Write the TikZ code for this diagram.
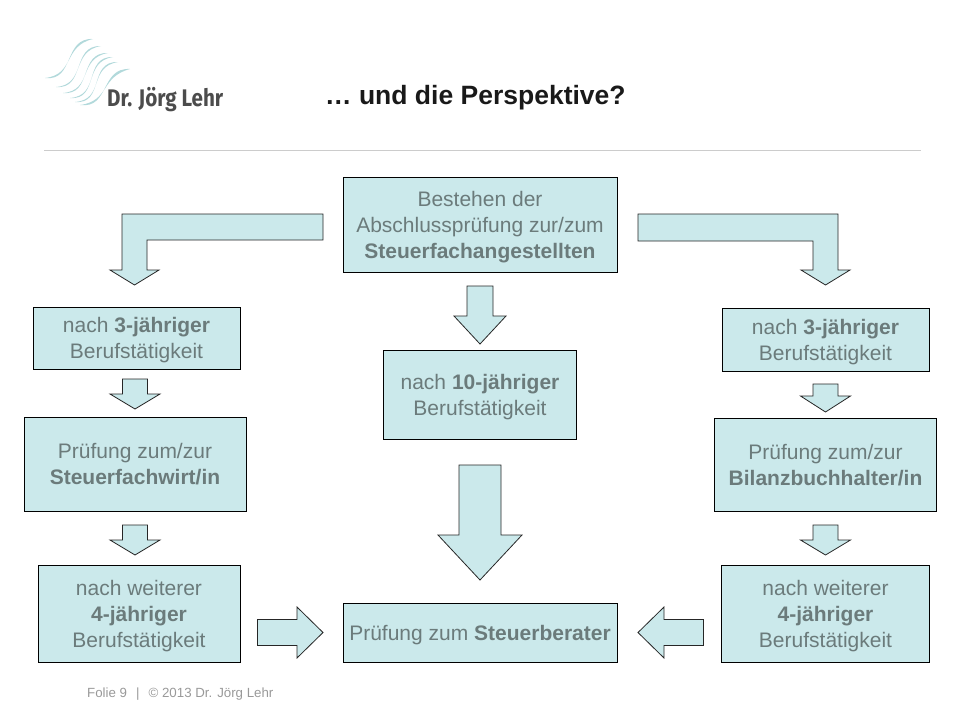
\documentclass[tikz,border=0pt]{standalone}
\usepackage{fontspec}
\setmainfont{Liberation Sans}
\newfontfamily\logofont{Fira Sans}
\usetikzlibrary{positioning,calc}
\definecolor{boxfill}{HTML}{CBE9EB}
\definecolor{boxtext}{HTML}{6B7B7B}
\definecolor{logowave}{HTML}{B2D9DB}
\tikzset{
	stepbox/.style={draw=black, line width=0.8pt, fill=boxfill, text=boxtext, align=center, inner sep=0pt, outer sep=0pt, text depth=0pt, font=\fontsize{21}{26}\selectfont},
	blockarrow/.style={draw=black!85, line width=0.8pt, fill=boxfill, line join=miter},
}
% start, tip, shaft half width, head half width, head length
\newcommand{\BlockArrow}[5]{
	\coordinate (bs) at (#1);
	\coordinate (bt) at (#2);
	\coordinate (bn) at ($(bt)!#5!(bs)$);
	\draw[blockarrow] ($(bs)!#3!90:(bt)$) -- ($(bn)!#3!90:(bt)$) -- ($(bn)!#4!90:(bt)$) -- (bt)
		-- ($(bn)!#4!-90:(bt)$) -- ($(bn)!#3!-90:(bt)$) -- ($(bs)!#3!-90:(bt)$) -- cycle;
}

\begin{document}
\begin{tikzpicture}[x=1pt, y=1pt]
	\useasboundingbox (0,0) rectangle (960,-720);

	% logo
	\foreach \sx/\sy/\ex/\ey/\wt in {45/78/93/39/7, 56/87/101/46/5, 63/93/108/53/5, 70/98/113/57/5, 75/102/118/62/5, 80/105/130/69/8} {
		\fill[logowave] (\sx,-\sy) .. controls (\sx+30,-\sy-\wt*0.5) and (\ex-30,-\ey+\wt*0.2) .. (\ex,-\ey)
			.. controls (\ex-30,-\ey-\wt) and (\sx+30,-\sy+\wt*0.5) .. cycle;
	}
	\node[font=\logofont\bfseries\fontsize{24}{26}\selectfont, text=black!70, xscale=0.86, anchor=west, inner sep=0pt] (logotext) at (107,-100) {Dr. Jörg Lehr};

	% head
	\node[font=\bfseries\fontsize{26.5}{30}\selectfont, text=black!90, anchor=west, inner sep=0pt] (title) at (325,-98) {… und die Perspektive?};
	\coordinate (ruleL) at (44,-150.5);
	\coordinate (ruleR) at (921,-150.5);
	\draw[black!20, line width=0.8pt] (ruleL) -- (ruleR);

	% boxes
	\node[stepbox, minimum width=274pt, minimum height=95pt] (topbox) at (480,-224.5) {Bestehen der\\Abschlussprüfung zur/zum\\\textbf{Steuerfachangestellten}};
	\node[stepbox, minimum width=193pt, minimum height=89pt, below=78pt of topbox] (mid) {nach \textbf{10-jähriger}\\Berufstätigkeit};
	\node[stepbox, minimum width=274pt, minimum height=59pt, below=164pt of mid] (berater) {Prüfung zum \textbf{Steuerberater}};

	\node[stepbox, minimum width=207pt, minimum height=62pt] (left1) at (136.5,-338) {nach \textbf{3-jähriger}\\Berufstätigkeit};
	\node[stepbox, minimum width=222pt, minimum height=94pt, below=48pt of left1, xshift=-1.5pt] (left2) {Prüfung zum/zur\\\textbf{Steuerfachwirt/in}};
	\node[stepbox, minimum width=202pt, minimum height=97pt, below=54pt of left2, xshift=4pt] (left3) {nach weiterer\\\textbf{4-jähriger}\\Berufstätigkeit};

	\node[stepbox, minimum width=207pt, minimum height=63pt] (right1) at (825.5,-339.5) {nach \textbf{3-jähriger}\\Berufstätigkeit};
	\node[stepbox, minimum width=222pt, minimum height=93pt, below=47pt of right1] (right2) {Prüfung zum/zur\\\textbf{Bilanzbuchhalter/in}};
	\node[stepbox, minimum width=208pt, minimum height=97pt, below=54pt of right2] (right3) {nach weiterer\\\textbf{4-jähriger}\\Berufstätigkeit};

	% arrows
	\BlockArrow{$(topbox.south)+(0,-14)$}{$(mid.north)+(0,6)$}{13pt}{26pt}{28pt}
	\BlockArrow{$(mid.south)+(0,-26)$}{$(berater.north)+(0,23)$}{21pt}{42pt}{45pt}
	\BlockArrow{$(left1.south)+(-1.5,-10)$}{$(left2.north)+(0,8)$}{12.5pt}{25pt}{15pt}
	\BlockArrow{$(left2.south)+(0,-14)$}{$(left3.north)+(-4,10)$}{12.5pt}{25pt}{15pt}
	\BlockArrow{$(right1.south)+(0,-13)$}{$(right2.north)+(0,6)$}{12.5pt}{25pt}{16pt}
	\BlockArrow{$(right2.south)+(0,-14)$}{$(right3.north)+(0,10)$}{12.5pt}{25pt}{15pt}
	\BlockArrow{$(left3.east)+(17.5,-19)$}{$(berater.west)+(-20,0)$}{13pt}{25.5pt}{26pt}
	\BlockArrow{$(right3.west)+(-18,-19)$}{$(berater.east)+(21,0)$}{13pt}{25.5pt}{26pt}

	% bent arrows
	\coordinate (lstart) at (323,-227);
	\coordinate (ltip) at ($(left1.north)+(-2,22)$);
	\coordinate (rstart) at (638,-227.5);
	\coordinate (rtip) at ($(right1.north)+(0,23)$);
	\draw[blockarrow] ($(lstart)+(0,13)$) -| ($(ltip)+(-12.5,15)$) -- ++(-12,0) -- (ltip) -- ++(24.5,15) -- ++(-12,0) |- ($(lstart)+(0,-13)$) -- cycle;
	\draw[blockarrow] ($(rstart)+(0,13.5)$) -| ($(rtip)+(12.5,15)$) -- ++(12,0) -- (rtip) -- ++(-24.5,15) -- ++(12,0) |- ($(rstart)+(0,-13.5)$) -- cycle;

	% foot
	\node[font=\fontsize{13.3}{15}\selectfont, text=black!40, anchor=west, inner sep=0pt] (foot) at (87,-694) {Folie 9\hspace{9pt}|\hspace{9pt}© 2013 Dr. Jörg Lehr};
\end{tikzpicture}
\end{document}
